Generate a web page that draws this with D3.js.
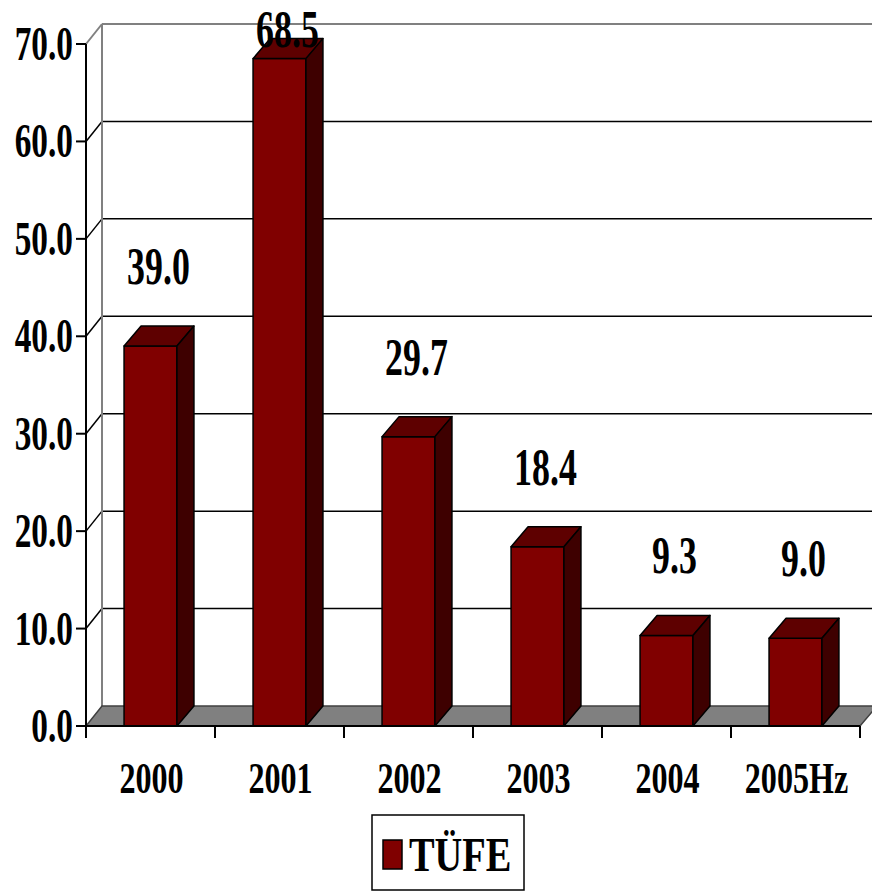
<!DOCTYPE html>
<html>
<head>
<meta charset="utf-8">
<script src="https://cdn.jsdelivr.net/npm/d3@7/dist/d3.min.js"></script>
<style>
  html, body { margin: 0; padding: 0; background: #fff; }
  svg { display: block; }
  text { font-family: "Liberation Serif", "Times New Roman", serif; font-weight: bold; fill: #000; }
</style>
</head>
<body>
<svg id="chart" width="872" height="892"></svg>
<script>
// TÜFE (annual CPI inflation, %)
const categories = ["2000", "2001", "2002", "2003", "2004", "2005Hz"];
const values = [39.0, 68.5, 29.7, 18.4, 9.3, 9.0];
const valueLabels = ["39.0", "68.5", "29.7", "18.4", "9.3", "9.0"];
const yTicks = [0, 10, 20, 30, 40, 50, 60, 70];
const seriesName = "TÜFE";

const svg = d3.select("#chart");
const W = 872, H = 892;

// 3D depth vector for the wall offset and bar depth
const DX = 17, DY = -20;

const x = d3.scaleBand().domain(categories).range([86, 860])
  .paddingInner(0.59).paddingOuter(0.295);
const y = d3.scaleLinear().domain([0, 70]).range([726, 44]);

const C_FRONT = "#800000", C_TOP = "#5e0000", C_SIDE = "#3e0000";

// condensed bold serif text helper
function label(g, str, px, py, size, sx, anchor) {
  return g.append("text")
    .attr("transform", `translate(${px},${py}) scale(${sx},1)`)
    .attr("text-anchor", anchor)
    .style("font-size", size + "px")
    .text(str);
}

// back wall gridlines + side-wall diagonals
const grid = svg.append("g");
yTicks.forEach(t => {
  if (t === 0) return;
  const yy = y(t);
  const col = t === 70 ? "#808080" : "#000";
  const w = t === 70 ? 2 : 1.5;
  grid.append("line").attr("x1", 86 + DX - 1).attr("x2", W + 20)
    .attr("y1", yy + DY).attr("y2", yy + DY)
    .attr("stroke", col).attr("stroke-width", w);
  grid.append("line").attr("x1", 86).attr("y1", yy)
    .attr("x2", 86 + DX - 1).attr("y2", yy + DY)
    .attr("stroke", col).attr("stroke-width", w);
});
// back wall left edge
grid.append("line").attr("x1", 86 + DX - 1).attr("x2", 86 + DX - 1)
  .attr("y1", y(70) + DY).attr("y2", y(0) + DY)
  .attr("stroke", "#808080").attr("stroke-width", 2);

// floor
const x0f = 86, x1f = 860, y0f = y(0);
svg.append("polygon")
  .attr("points", [[x0f, y0f], [x1f, y0f], [x1f + DX, y0f + DY], [x0f + DX - 1, y0f + DY]].map(p => p.join(",")).join(" "))
  .attr("fill", "#808080").attr("stroke", "#404040").attr("stroke-width", 1.5);

// bars
const bars = svg.append("g");
categories.forEach((c, i) => {
  const bx0 = x(c), bx1 = x(c) + x.bandwidth();
  const yt = y(values[i]), yb = y(0);
  const g = bars.append("g").attr("stroke", "#000").attr("stroke-width", 1.5).attr("stroke-linejoin", "round");
  g.append("rect").attr("x", bx0).attr("y", yt).attr("width", bx1 - bx0).attr("height", yb - yt)
    .attr("fill", C_FRONT);
  g.append("polygon")
    .attr("points", [[bx0, yt], [bx0 + DX, yt + DY], [bx1 + DX, yt + DY], [bx1, yt]].map(p => p.join(",")).join(" "))
    .attr("fill", C_TOP);
  g.append("polygon")
    .attr("points", [[bx1, yt], [bx1 + DX, yt + DY], [bx1 + DX, yb + DY], [bx1, yb]].map(p => p.join(",")).join(" "))
    .attr("fill", C_SIDE);
});

// front axes
const axes = svg.append("g").attr("stroke", "#000").attr("stroke-width", 2);
axes.append("line").attr("x1", 86).attr("x2", 86).attr("y1", y(70)).attr("y2", y(0) + 12);
axes.append("line").attr("x1", 85).attr("x2", 860).attr("y1", y(0)).attr("y2", y(0));
yTicks.forEach(t => {
  axes.append("line").attr("x1", 76).attr("x2", 86).attr("y1", y(t)).attr("y2", y(t));
});
const bandEdges = categories.map(c => x(c) - x.step() * 0.295).concat([860]);
bandEdges.slice(1).forEach(bx => {
  axes.append("line").attr("x1", bx).attr("x2", bx).attr("y1", y(0)).attr("y2", y(0) + 12);
});

// y tick labels
const tl = svg.append("g");
yTicks.forEach(t => {
  label(tl, d3.format(".1f")(t), 73, y(t) + 16, 49, 0.68, "end");
});

// category labels
const cl = svg.append("g");
categories.forEach(c => {
  label(cl, c, x(c) + x.bandwidth() / 2 + 1, 793, 44, 0.73, "middle");
});

// value labels above bars (kept inside the top of the plot)
const vl = svg.append("g");
categories.forEach((c, i) => {
  const ly = Math.max(y(values[i]) - 62, 47);
  label(vl, valueLabels[i], x(c) + x.bandwidth() / 2 + 8, ly, 52, 0.69, "middle");
});

// legend
const lg = svg.append("g");
lg.append("rect").attr("x", 372).attr("y", 815).attr("width", 152).attr("height", 75)
  .attr("fill", "#fff").attr("stroke", "#000").attr("stroke-width", 1.5);
lg.append("rect").attr("x", 383).attr("y", 840).attr("width", 19).attr("height", 29)
  .attr("fill", C_FRONT).attr("stroke", "#000").attr("stroke-width", 1.5);
label(lg, seriesName, 409, 871, 48, 0.8, "start");
</script>
</body>
</html>
